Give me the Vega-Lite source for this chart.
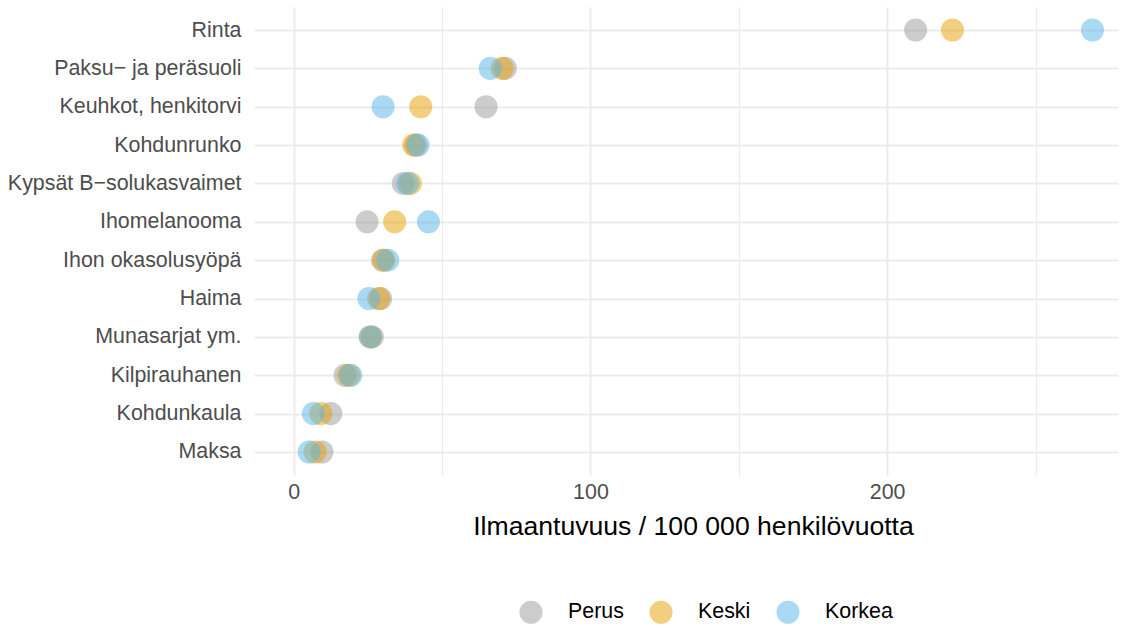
{
  "$schema": "https://vega.github.io/schema/vega-lite/v6.json",
  "width": 864,
  "height": 468,
  "autosize": {"type": "none"},
  "padding": {"left": 254, "top": 7, "right": 10, "bottom": 153},
  "background": "white",
  "config": {"view": {"stroke": null}, "font": "Liberation Sans"},
  "data": {
    "values": [
      {"kohde": "Rinta", "ryhma": "Perus", "arvo": 209.6},
      {"kohde": "Paksu− ja peräsuoli", "ryhma": "Perus", "arvo": 71.3},
      {"kohde": "Keuhkot, henkitorvi", "ryhma": "Perus", "arvo": 64.8},
      {"kohde": "Kohdunrunko", "ryhma": "Perus", "arvo": 41.1},
      {"kohde": "Kypsät B−solukasvaimet", "ryhma": "Perus", "arvo": 36.9},
      {"kohde": "Ihomelanooma", "ryhma": "Perus", "arvo": 24.7},
      {"kohde": "Ihon okasolusyöpä", "ryhma": "Perus", "arvo": 29.9},
      {"kohde": "Haima", "ryhma": "Perus", "arvo": 29.3},
      {"kohde": "Munasarjat ym.", "ryhma": "Perus", "arvo": 26.5},
      {"kohde": "Kilpirauhanen", "ryhma": "Perus", "arvo": 17.3},
      {"kohde": "Kohdunkaula", "ryhma": "Perus", "arvo": 12.5},
      {"kohde": "Maksa", "ryhma": "Perus", "arvo": 9.5},
      {"kohde": "Rinta", "ryhma": "Keski", "arvo": 222.0},
      {"kohde": "Paksu− ja peräsuoli", "ryhma": "Keski", "arvo": 70.2},
      {"kohde": "Keuhkot, henkitorvi", "ryhma": "Keski", "arvo": 42.8},
      {"kohde": "Kohdunrunko", "ryhma": "Keski", "arvo": 40.4},
      {"kohde": "Kypsät B−solukasvaimet", "ryhma": "Keski", "arvo": 39.3},
      {"kohde": "Ihomelanooma", "ryhma": "Keski", "arvo": 34.0},
      {"kohde": "Ihon okasolusyöpä", "ryhma": "Keski", "arvo": 30.4},
      {"kohde": "Haima", "ryhma": "Keski", "arvo": 28.6},
      {"kohde": "Munasarjat ym.", "ryhma": "Keski", "arvo": 25.8},
      {"kohde": "Kilpirauhanen", "ryhma": "Keski", "arvo": 18.6},
      {"kohde": "Kohdunkaula", "ryhma": "Keski", "arvo": 9.1},
      {"kohde": "Maksa", "ryhma": "Keski", "arvo": 7.2},
      {"kohde": "Rinta", "ryhma": "Korkea", "arvo": 269.2},
      {"kohde": "Paksu− ja peräsuoli", "ryhma": "Korkea", "arvo": 66.2},
      {"kohde": "Keuhkot, henkitorvi", "ryhma": "Korkea", "arvo": 30.1},
      {"kohde": "Kohdunrunko", "ryhma": "Korkea", "arvo": 41.9},
      {"kohde": "Kypsät B−solukasvaimet", "ryhma": "Korkea", "arvo": 38.4},
      {"kohde": "Ihomelanooma", "ryhma": "Korkea", "arvo": 45.4},
      {"kohde": "Ihon okasolusyöpä", "ryhma": "Korkea", "arvo": 31.7},
      {"kohde": "Haima", "ryhma": "Korkea", "arvo": 25.3},
      {"kohde": "Munasarjat ym.", "ryhma": "Korkea", "arvo": 25.8},
      {"kohde": "Kilpirauhanen", "ryhma": "Korkea", "arvo": 19.2},
      {"kohde": "Kohdunkaula", "ryhma": "Korkea", "arvo": 6.6},
      {"kohde": "Maksa", "ryhma": "Korkea", "arvo": 5.2}
    ]
  },
  "mark": {"type": "circle", "size": 531, "opacity": 0.5},
  "encoding": {
    "x": {
      "field": "arvo",
      "type": "quantitative",
      "scale": {"domain": [-13.4, 277.8], "nice": false, "zero": false},
      "axis": {
        "values": [0, 50, 100, 150, 200, 250],
        "labelExpr": "datum.value % 100 === 0 ? datum.label : ''",
        "title": "Ilmaantuvuus / 100 000 henkilövuotta",
        "titleFontSize": 26.6,
        "titleFontWeight": "normal",
        "titleColor": "black",
        "titleX": 439,
        "titlePadding": 11,
        "labelFontSize": 21.4,
        "labelColor": "#4d4d4d",
        "labelPadding": 6,
        "domain": false,
        "ticks": false,
        "grid": true,
        "gridColor": "#ebebeb",
        "gridWidth": {"condition": {"test": "datum.value % 100 === 0", "value": 2}, "value": 1.2}
      }
    },
    "y": {
      "field": "kohde",
      "type": "nominal",
      "sort": ["Rinta", "Paksu− ja peräsuoli", "Keuhkot, henkitorvi", "Kohdunrunko", "Kypsät B−solukasvaimet", "Ihomelanooma", "Ihon okasolusyöpä", "Haima", "Munasarjat ym.", "Kilpirauhanen", "Kohdunkaula", "Maksa"],
      "scale": {"type": "point", "padding": 0.6},
      "axis": {
        "title": null,
        "labelFontSize": 21.4,
        "labelColor": "#4d4d4d",
        "labelPadding": 13,
        "labelLimit": 0,
        "domain": false,
        "ticks": false,
        "grid": true,
        "gridColor": "#ebebeb",
        "gridWidth": 2
      }
    },
    "color": {
      "field": "ryhma",
      "type": "nominal",
      "scale": {"domain": ["Perus", "Keski", "Korkea"], "range": ["#999999", "#E69F00", "#56B4E9"]},
      "legend": {
        "orient": "none",
        "legendX": 265,
        "legendY": 593,
        "direction": "horizontal",
        "title": null,
        "symbolType": "circle",
        "symbolSize": 531,
        "symbolOpacity": 0.5,
        "symbolStrokeWidth": 0,
        "labelFontSize": 21.4,
        "labelColor": "black",
        "labelOffset": 25,
        "columnPadding": 25
      }
    }
  }
}
